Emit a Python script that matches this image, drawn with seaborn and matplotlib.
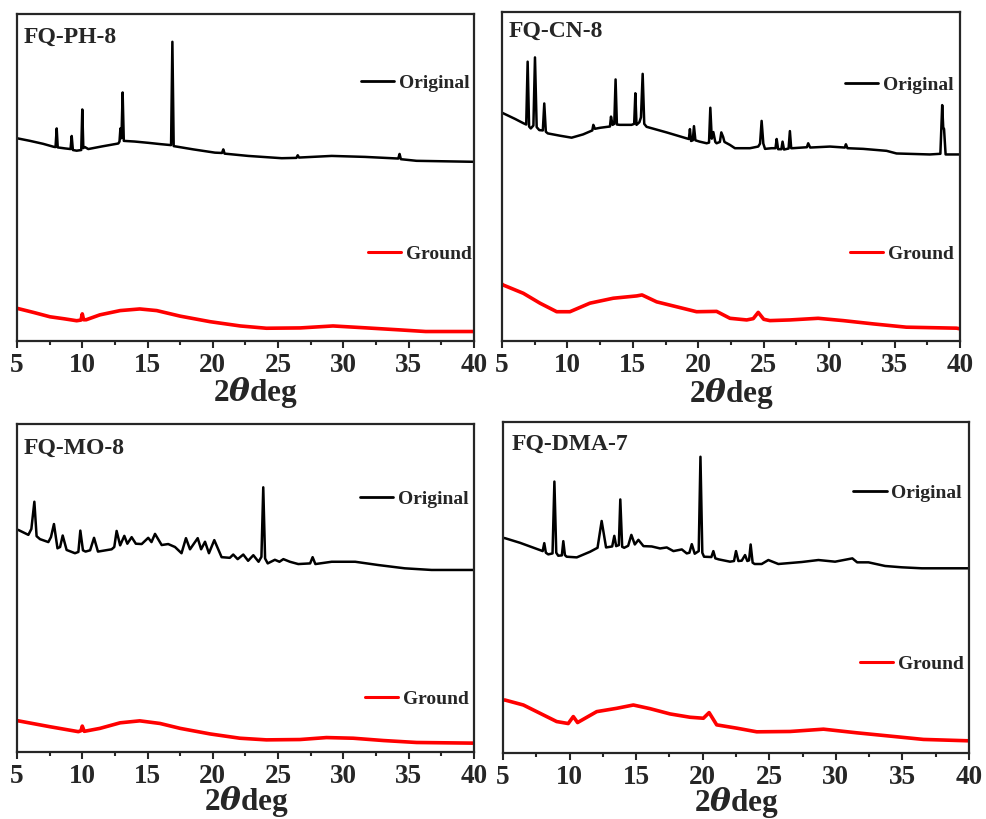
import matplotlib
matplotlib.use("Agg")
import matplotlib.pyplot as plt
from matplotlib.lines import Line2D
from matplotlib.ticker import MultipleLocator
import seaborn as sns

# ---- diffraction data: 2-theta (deg) and relative intensity (a.u.) ----
ph_orig_x = [5.0, 6.0, 7.0, 7.8, 7.95, 8.04, 8.12, 8.67, 9.1, 9.19, 9.28, 9.57, 9.92, 10.0, 10.08,
             10.2, 10.46, 11.5, 12.76, 12.85, 12.92, 13.0, 13.09, 13.18, 14.0, 15.06, 16.0, 16.8,
             16.9, 17.0, 18.5, 20.16, 20.7, 20.8, 20.9, 22.7, 25.27, 26.4, 26.5, 26.6, 29.1, 31.65,
             34.2, 34.3, 34.4, 35.6, 40.0]
ph_orig_y = [62.0, 61.2, 60.3, 59.4, 59.3, 65.0, 59.2, 58.9, 58.7, 62.7, 58.4, 58.2, 58.4, 70.8, 59.0,
             59.3, 58.7, 59.5, 60.4, 61.0, 65.0, 62.0, 76.0, 61.2, 61.0, 60.6, 60.2, 59.9,
             91.5, 59.6, 58.6, 57.6, 57.5, 58.6, 57.3, 56.6, 55.9, 56.0, 56.8, 56.1, 56.6, 56.3,
             55.8, 57.2, 55.6, 55.1, 54.8]
ph_grnd_x = [5.0, 6.3, 7.53, 8.6, 9.57, 9.9, 10.0, 10.1, 10.3, 11.35, 12.9, 14.4, 15.7, 17.5, 19.8,
             22.1, 24.1, 26.7, 29.2, 31.8, 34.3, 36.3, 40.0]
ph_grnd_y = [10.0, 8.7, 7.4, 6.8, 6.2, 6.4, 8.3, 6.5, 6.5, 8.0, 9.3, 9.8, 9.3, 7.6, 5.9,
             4.6, 3.9, 4.0, 4.6, 4.0, 3.4, 2.9, 2.9]

cn_orig_x = [5.0, 5.1, 6.0, 6.63, 6.85, 6.96, 7.07, 7.2, 7.4, 7.52, 7.65, 7.85, 8.12, 8.23, 8.35, 8.5,
             9.43, 10.32, 11.2, 11.9, 11.98, 12.1, 12.49, 13.25, 13.33, 13.45, 13.58, 13.68, 13.78,
             14.0, 14.9, 15.1, 15.19, 15.28, 15.5, 15.62, 15.75, 15.87, 16.05, 17.58, 19.1, 19.28,
             19.36, 19.45, 19.58, 19.67, 19.78, 20.1, 20.64, 20.82, 20.92, 21.03, 21.15, 21.3, 21.4,
             21.65, 21.76, 21.9, 22.0, 22.42, 22.8, 23.95, 24.58, 24.72, 24.84, 24.97, 25.1, 25.6,
             25.9, 25.99, 26.1, 26.35, 26.44, 26.55, 26.9, 27.0, 27.1, 27.2, 28.3, 28.4, 28.55,
             30.06, 31.2, 31.28, 31.4, 32.6, 34.39, 35.15, 37.7, 38.5, 38.64, 38.72, 38.78, 38.9,
             39.73, 40.0]
cn_orig_y = [69.4, 69.2, 67.5, 66.2, 65.8, 84.9, 65.2, 64.6, 65.5, 86.2, 65.0, 64.1, 64.0, 72.2, 63.6, 63.1,
             62.4, 61.8, 62.8, 64.0, 65.7, 64.5, 64.8, 65.2, 68.2, 65.7, 66.0, 79.5, 65.8,
             65.7, 65.7, 66.0, 75.3, 65.7, 66.5, 68.0, 81.2, 66.0, 65.1, 63.4, 61.6, 61.4,
             64.4, 60.8, 61.0, 65.3, 61.0, 60.6, 60.1, 60.3, 70.9, 61.5, 63.5, 60.5, 60.1,
             60.5, 63.4, 62.0, 60.5, 59.6, 58.6, 58.6, 59.1, 60.0, 66.9, 60.0, 58.4, 58.6,
             58.6, 61.4, 58.3, 58.3, 60.6, 58.2, 58.5, 63.8, 58.6, 58.6, 58.9, 60.1, 58.8,
             59.1, 58.8, 59.8, 58.6, 58.4, 57.8, 57.0, 56.7, 56.9, 71.7, 64.7, 64.5, 56.7,
             56.7, 56.7]
cn_grnd_x = [5.0, 5.1, 6.63, 7.9, 9.18, 10.19, 11.72, 13.5, 15.29, 15.7, 16.82, 18.35, 19.87, 21.4,
             22.42, 23.7, 24.2, 24.58, 25.0, 25.47, 27.0, 29.16, 31.07, 33.37, 35.9, 39.73, 40.0]
cn_grnd_y = [17.3, 17.0, 14.5, 11.5, 8.9, 8.9, 11.5, 13.0, 13.7, 14.0, 11.9, 10.4, 8.9, 9.0,
             6.9, 6.4, 6.8, 8.7, 6.6, 6.2, 6.4, 6.9, 6.2, 5.2, 4.2, 3.9, 3.7]

mo_orig_x = [5.0, 5.1, 5.87, 6.1, 6.33, 6.5, 6.76, 7.4, 7.6, 7.83, 8.1, 8.3, 8.5, 8.8, 9.44, 9.7, 9.85,
             10.05, 10.25, 10.6, 10.9, 11.2, 12.25, 12.45, 12.63, 12.9, 13.22, 13.45, 13.78, 14.1,
             14.55, 15.05, 15.3, 15.57, 16.08, 16.58, 17.1, 17.6, 17.94, 18.25, 18.84, 19.1, 19.4,
             19.7, 20.11, 20.67, 21.3, 21.56, 21.9, 22.33, 22.7, 23.1, 23.5, 23.72, 23.86, 24.0,
             24.2, 24.75, 25.1, 25.4, 25.9, 26.54, 27.45, 27.64, 27.85, 29.1, 30.9, 32.67, 34.7,
             36.75, 40.0]
mo_orig_y = [67.7, 67.7, 66.2, 68.0, 76.3, 65.8, 64.9, 64.0, 65.5, 69.5, 62.1, 62.5, 66.0, 61.6, 60.6, 61.0, 67.5,
             61.5, 61.1, 61.5, 65.3, 61.1, 61.8, 62.5, 67.4, 63.0, 65.9, 63.5, 65.5, 63.5,
             63.4, 65.3, 64.0, 66.5, 63.1, 63.4, 62.5, 60.6, 65.2, 61.8, 65.2, 61.8, 64.1,
             60.6, 64.6, 59.4, 59.2, 60.2, 58.8, 60.2, 58.3, 60.0, 58.0, 59.5, 80.7, 59.0,
             57.5, 58.6, 58.0, 58.8, 58.0, 57.3, 57.5, 59.4, 57.3, 58.0, 58.0, 57.0, 56.0,
             55.5, 55.5]
mo_grnd_x = [5.0, 5.1, 7.53, 9.7, 9.9, 10.0, 10.15, 11.35, 12.9, 14.4, 15.95, 17.5, 19.8, 22.07,
             24.1, 26.67, 28.7, 30.75, 33.05, 35.6, 40.0]
mo_grnd_y = [9.5, 9.5, 7.7, 6.2, 6.5, 7.9, 6.3, 7.2, 8.9, 9.5, 8.7, 7.2, 5.5, 4.2,
             3.7, 3.8, 4.4, 4.2, 3.5, 2.9, 2.7]

dma_orig_x = [5.0, 5.15, 6.28, 7.78, 7.98, 8.1, 8.22, 8.4, 8.72, 8.86, 9.0, 9.15, 9.42, 9.53, 9.65,
              9.78, 10.54, 11.54, 12.1, 12.41, 12.74, 13.2, 13.36, 13.5, 13.7, 13.81, 13.95, 14.1,
              14.4, 14.64, 14.9, 15.17, 15.55, 16.17, 16.8, 17.3, 17.8, 18.43, 18.8, 19.0, 19.18,
              19.4, 19.7, 19.83, 19.97, 20.1, 20.65, 20.8, 20.95, 21.2, 22.05, 22.35, 22.5, 22.68,
              22.93, 23.18, 23.35, 23.48, 23.6, 23.75, 23.9, 24.43, 24.93, 25.68, 27.44, 28.69,
              29.94, 31.24, 31.6, 32.45, 33.7, 34.95, 36.46, 40.0]
dma_orig_y = [65.0, 64.9, 63.5, 61.3, 61.0, 63.4, 60.5, 60.0, 60.3, 82.0, 60.5, 59.6, 59.7, 64.0, 59.8,
              59.3, 59.1, 60.8, 62.0, 70.1, 62.1, 62.4, 65.6, 62.5, 62.8, 76.6, 62.3, 62.0,
              62.6, 65.9, 63.0, 64.4, 62.5, 62.4, 61.8, 62.1, 61.0, 61.5, 60.3, 60.5, 63.1,
              60.2, 61.0, 89.5, 60.5, 59.3, 59.2, 61.0, 58.8, 58.5, 57.8, 58.0, 61.0, 58.0,
              58.1, 59.8, 58.0, 58.2, 63.0, 57.5, 57.1, 57.1, 58.3, 57.1, 57.7, 58.3,
              57.8, 58.8, 57.6, 57.6, 56.5, 56.1, 55.8, 55.8]
dma_grnd_x = [5.0, 5.15, 6.53, 7.78, 9.03, 9.9, 10.28, 10.6, 12.04, 13.54, 14.79, 16.04, 17.55,
              19.05, 20.05, 20.48, 21.05, 22.56, 24.06, 26.56, 29.07, 31.57, 34.08, 36.58, 39.84, 40.0]
dma_grnd_y = [16.0, 16.0, 14.5, 12.0, 9.5, 8.9, 11.0, 9.2, 12.5, 13.5, 14.5, 13.4, 11.8,
              10.8, 10.5, 12.2, 8.5, 7.5, 6.4, 6.5, 7.2, 6.1, 5.1, 4.1, 3.7, 3.7]

sample_names = ["FQ-PH-8", "FQ-CN-8", "FQ-MO-8", "FQ-DMA-7"]
series_labels = ["Original", "Ground"]
x_ticks = [5, 10, 15, 20, 25, 30, 35, 40]

# ---- style ----
sns.set_style("ticks")
plt.rcParams.update({
    "font.family": ["Liberation Serif", "DejaVu Serif"],
    "font.weight": "bold",
    "mathtext.fontset": "custom",
    "mathtext.rm": "Liberation Serif:bold",
    "mathtext.bf": "Liberation Serif:bold",
    "mathtext.it": "DejaVu Serif:italic:bold",
    "axes.linewidth": 1.6,
    "xtick.major.width": 1.5,
    "xtick.minor.width": 1.5,
    "xtick.major.size": 5,
    "xtick.minor.size": 3,
    "xtick.direction": "out",
})

W, H = 987, 819
fig = plt.figure(figsize=(W / 100, H / 100), dpi=100)

# panel boxes in pixels: left, top, right, bottom
boxes = [(17, 14, 474, 341), (502, 12, 960, 341), (17, 424, 474, 752), (503, 422, 969, 753)]
panels = [
    (ph_orig_x, ph_orig_y, ph_grnd_x, ph_grnd_y),
    (cn_orig_x, cn_orig_y, cn_grnd_x, cn_grnd_y),
    (mo_orig_x, mo_orig_y, mo_grnd_x, mo_grnd_y),
    (dma_orig_x, dma_orig_y, dma_grnd_x, dma_grnd_y),
]
title_pos = [(0.014, 0.913), (0.014, 0.923), (0.014, 0.908), (0.019, 0.915)]
label_pos = [(0.523, -0.105), (0.502, -0.105), (0.503, -0.098), (0.502, -0.098)]
legend_orig = [(0.991, 0.789), (0.985, 0.778), (0.988, 0.770), (0.985, 0.785)]
legend_grnd = [(0.996, 0.266), (0.987, 0.264), (0.988, 0.161), (0.988, 0.269)]

for i, (box, data) in enumerate(zip(boxes, panels)):
    l, t, r, b = box
    ax = fig.add_axes([l / W, 1 - b / H, (r - l) / W, (b - t) / H])
    ox, oy, gx, gy = data
    sns.lineplot(x=ox, y=oy, ax=ax, color="black", linewidth=1.8, estimator=None)
    sns.lineplot(x=gx, y=gy, ax=ax, color="#ff0000", linewidth=2.6, estimator=None)

    ax.set_xlim(5, 40)
    ax.set_ylim(0, 100)
    ax.set_xticks(x_ticks)
    ax.set_xticklabels([str(v) for v in x_ticks])
    ax.xaxis.set_minor_locator(MultipleLocator(2.5))
    ax.set_yticks([])
    ax.tick_params(axis="x", which="both", top=False, labelsize=19.5, pad=3.5)
    for lab in ax.get_xticklabels():
        lab.set_fontweight("bold")
    for sp in ax.spines.values():
        sp.set_visible(True)
        sp.set_linewidth(1.6)

    ax.set_xlabel(r"$\mathbf{2}\theta\mathbf{deg}$", fontsize=22.5)
    ax.xaxis.set_label_coords(*label_pos[i])
    ax.set_ylabel("")

    ax.text(*title_pos[i], sample_names[i], transform=ax.transAxes, fontsize=17,
            fontweight="bold", va="baseline", ha="left")

    h_o = Line2D([], [], color="black", linewidth=2.0)
    h_g = Line2D([], [], color="#ff0000", linewidth=2.2)
    leg1 = ax.legend([h_o], [series_labels[0]], loc="center right", bbox_to_anchor=legend_orig[i],
                     frameon=False, borderpad=0, borderaxespad=0, handlelength=1.7,
                     handletextpad=0.25, prop={"size": 14, "weight": "bold"})
    ax.add_artist(leg1)
    ax.legend([h_g], [series_labels[1]], loc="center right", bbox_to_anchor=legend_grnd[i],
              frameon=False, borderpad=0, borderaxespad=0, handlelength=1.7,
              handletextpad=0.25, prop={"size": 14, "weight": "bold"})

fig.savefig("out.png", dpi=100)
